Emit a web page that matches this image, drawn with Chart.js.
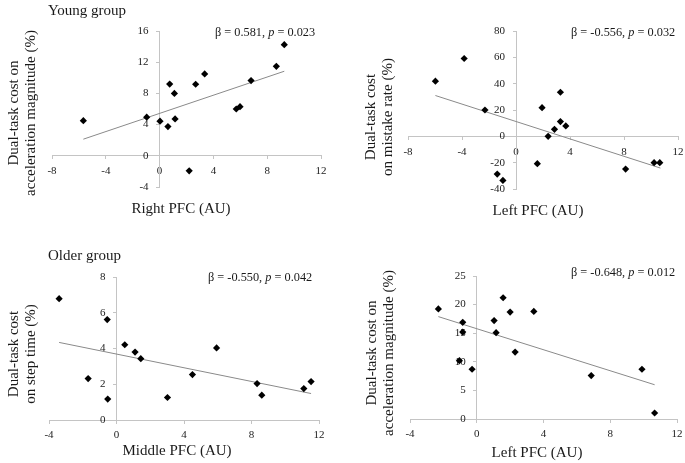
<!DOCTYPE html>
<html>
<head>
<meta charset="utf-8">
<script src="https://cdn.jsdelivr.net/npm/chart.js@4/dist/chart.umd.min.js"></script>
<style>
  body { margin: 0; background: #fff; width: 685px; height: 463px; overflow: hidden; position: relative;
         font-family: 'Liberation Serif', 'Times New Roman', serif; color: #1a1a1a; }
  canvas { position: absolute; left: 0; top: 0; }
  .t { position: absolute; white-space: nowrap; font-size: 15px; line-height: 17px; }
  .xt { position: absolute; white-space: nowrap; font-size: 15px; line-height: 17px; transform: translateX(-50%); }
  .rot { position: absolute; white-space: nowrap; font-size: 15px; line-height: 17px; text-align: center;
         transform: translate(-50%, -50%) rotate(-90deg); }
  .note { position: absolute; white-space: nowrap; font-size: 12.3px; line-height: 14px; }
</style>
</head>
<body>
<canvas id="c1" width="685" height="463"></canvas>
<canvas id="c2" width="685" height="463"></canvas>
<canvas id="c3" width="685" height="463"></canvas>
<canvas id="c4" width="685" height="463"></canvas>

<div class="t" style="left:48px;top:2px">Young group</div>
<div class="rot" style="left:22px;top:113px">Dual-task cost on<br>acceleration magnitude (%)</div>
<div class="xt" style="left:181px;top:200px">Right PFC (AU)</div>
<div class="note" style="left:215px;top:25px">β = 0.581, <i>p</i> = 0.023</div>

<div class="rot" style="left:379px;top:117px">Dual-task cost<br>on mistake rate (%)</div>
<div class="xt" style="left:538px;top:202px">Left PFC (AU)</div>
<div class="note" style="left:571px;top:25px">β = -0.556, <i>p</i> = 0.032</div>

<div class="t" style="left:48px;top:247px">Older group</div>
<div class="rot" style="left:22px;top:354px">Dual-task cost<br>on step time (%)</div>
<div class="xt" style="left:177px;top:442px">Middle PFC (AU)</div>
<div class="note" style="left:208px;top:270px">β = -0.550, <i>p</i> = 0.042</div>

<div class="rot" style="left:380px;top:353px">Dual-task cost on<br>acceleration magnitude (%)</div>
<div class="xt" style="left:537px;top:444px">Left PFC (AU)</div>
<div class="note" style="left:571px;top:265px">β = -0.648, <i>p</i> = 0.012</div>

<script>
// Young group, right PFC vs acceleration magnitude cost
const youngRightX = [-5.67, -0.96, 0.03, 0.62, 0.75, 1.1, 1.15, 2.2, 2.68, 3.35, 5.7, 5.98, 6.8, 8.68, 9.27];
const youngRightY = [4.5, 4.95, 4.44, 3.75, 9.2, 8.0, 4.73, -1.92, 9.17, 10.5, 6.0, 6.3, 9.64, 11.47, 14.25];
const youngRightFitX = [-5.67, 9.27];
const youngRightFitY = [2.13, 10.84];

// Young group, left PFC vs mistake rate cost
const youngLeftX = [-5.97, -3.84, -2.3, -1.39, -0.97, 1.58, 1.93, 2.38, 2.85, 3.29, 3.29, 3.69, 8.12, 10.23, 10.65];
const youngLeftY = [41.9, 59.1, 20.0, -28.7, -33.5, -20.8, 21.8, 0, 5.3, 33.5, 11.2, 7.9, -24.9, -20.0, -20.0];
const youngLeftFitX = [-5.97, 10.7];
const youngLeftFitY = [31.0, -24.1];

// Older group, middle PFC vs step time cost
const olderMiddleX = [-3.4, -1.68, -0.55, -0.52, 0.49, 1.1, 1.44, 3.02, 4.5, 5.93, 8.33, 8.61, 11.1, 11.53];
const olderMiddleY = [6.79, 2.32, 5.62, 1.17, 4.21, 3.8, 3.43, 1.26, 2.54, 4.03, 2.04, 1.39, 1.76, 2.15];
const olderMiddleFitX = [-3.4, 11.53];
const olderMiddleFitY = [4.34, 1.48];

// Older group, left PFC vs acceleration magnitude cost
const olderLeftX = [-2.3, -0.84, -0.84, -1.04, -0.28, 1.04, 1.16, 1.58, 2.0, 2.3, 3.42, 6.86, 9.9, 10.66];
const olderLeftY = [19.25, 16.9, 15.2, 10.2, 8.7, 17.2, 15.1, 21.2, 18.7, 11.7, 18.8, 7.6, 8.7, 1.05];
const olderLeftFitX = [-2.3, 10.66];
const olderLeftFitY = [17.9, 5.99];

const axisColor = '#c4c4c4';
const tickFont = { family: "'Liberation Serif', 'Times New Roman', serif", size: 11 };

function pairs(xs, ys) {
  return xs.map((x, i) => ({ x: x, y: ys[i] }));
}

function makeChart(id, xs, ys, fitX, fitY, xr, yr, area) {
  const ctx = document.getElementById(id);
  return new Chart(ctx, {
    type: 'scatter',
    data: {
      datasets: [
        {
          data: pairs(xs, ys),
          pointStyle: 'rectRot',
          pointRadius: 3.6,
          backgroundColor: '#000',
          borderColor: '#000',
          borderWidth: 0
        },
        {
          type: 'line',
          data: pairs(fitX, fitY),
          borderColor: '#8a8a8a',
          borderWidth: 1,
          pointRadius: 0,
          fill: false
        }
      ]
    },
    options: {
      responsive: false,
      animation: false,
      events: [],
      layout: {
        padding: { left: area[0], right: 685 - area[1], top: area[2], bottom: 463 - area[3] }
      },
      plugins: { legend: { display: false }, tooltip: { enabled: false } },
      scales: {
        x: {
          type: 'linear',
          min: xr[0], max: xr[1],
          position: { y: 0 },
          afterFit(scale) {
            scale.height = 0
            scale.paddingLeft = 0
            scale.paddingRight = 0
          },
          grid: { drawOnChartArea: false, tickLength: 3, color: axisColor },
          border: { color: axisColor },
          ticks: { stepSize: xr[2], autoSkip: false, maxRotation: 0, font: tickFont, color: '#222', padding: 6 }
        },
        y: {
          type: 'linear',
          min: yr[0], max: yr[1],
          position: { x: 0 },
          afterFit(scale) {
            scale.width = 0
            scale.paddingTop = 0
            scale.paddingBottom = 0
          },
          grid: { drawOnChartArea: false, tickLength: 3, color: axisColor },
          border: { color: axisColor },
          // labels sit right on the axis when it is placed by value, so pad them with spaces
          ticks: { stepSize: yr[2], autoSkip: false, font: tickFont, color: '#222',
                   callback: v => v + '\u2002\u2002' }
        }
      }
    }
  })
}

makeChart('c1', youngRightX, youngRightY, youngRightFitX, youngRightFitY, [-8, 12, 4], [-4, 16, 4], [52, 321, 31, 187]);
makeChart('c2', youngLeftX, youngLeftY, youngLeftFitX, youngLeftFitY, [-8, 12, 4], [-40, 80, 20], [408, 678, 31, 189]);
makeChart('c3', olderMiddleX, olderMiddleY, olderMiddleFitX, olderMiddleFitY, [-4, 12, 4], [0, 8, 2], [49, 319, 277, 420]);
makeChart('c4', olderLeftX, olderLeftY, olderLeftFitX, olderLeftFitY, [-4, 12, 4], [0, 25, 5], [410, 677, 276, 419]);
</script>
</body>
</html>
